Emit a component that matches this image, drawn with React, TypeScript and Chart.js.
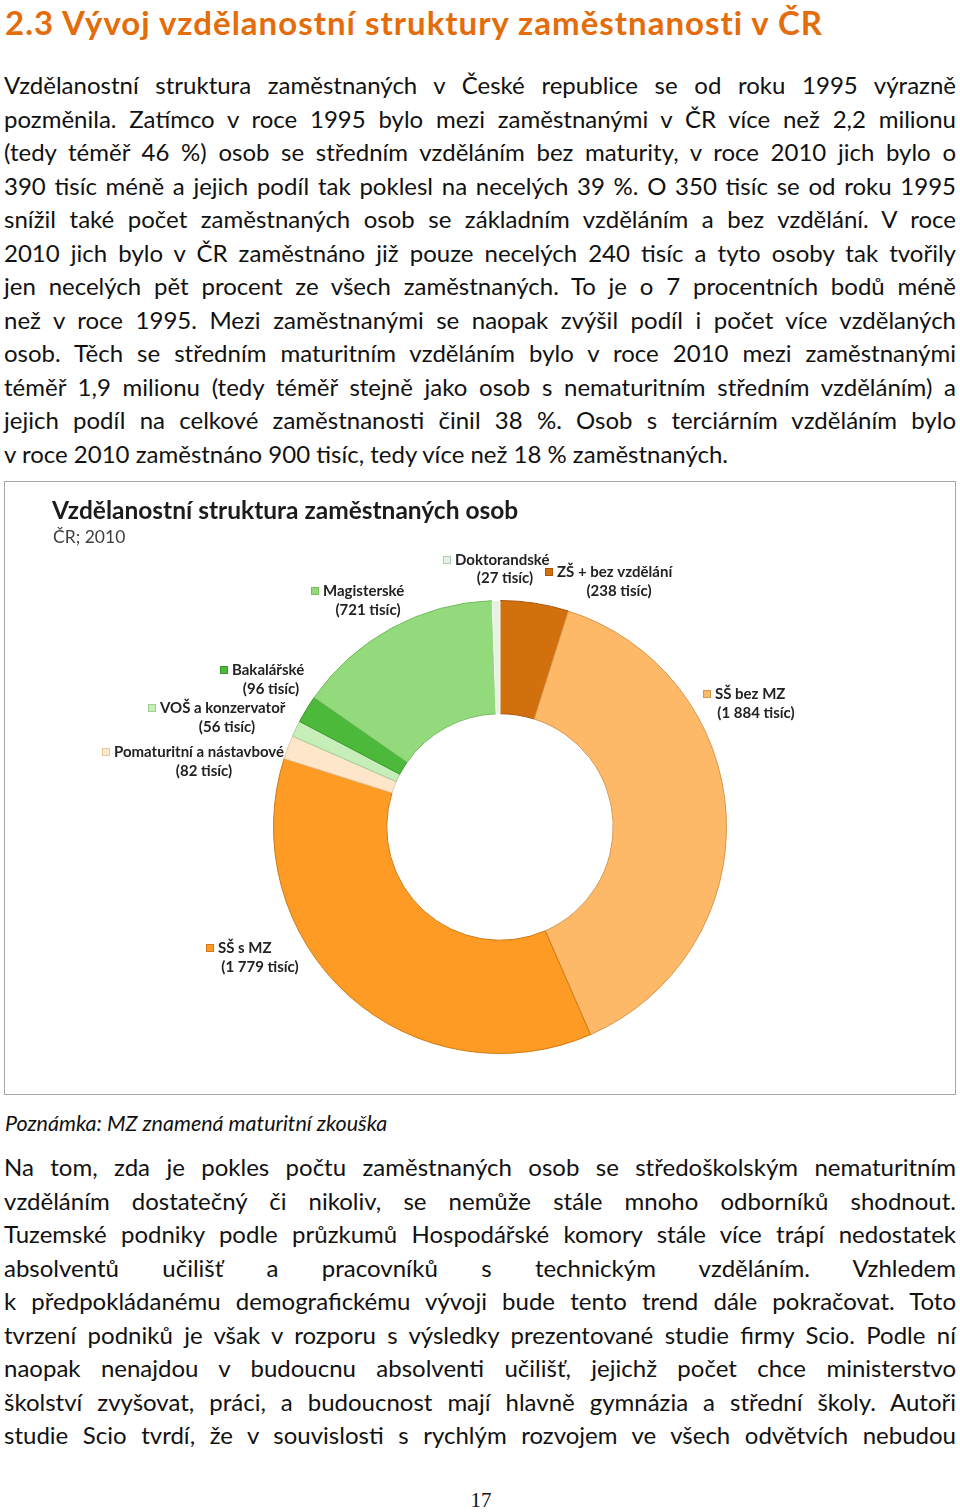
import React, { useEffect, useRef } from "react";
import { Chart, registerables } from "chart.js";

Chart.register(...registerables);

// ---- Data ----
const categories = [
  "ZŠ + bez vzdělání",
  "SŠ bez MZ",
  "SŠ s MZ",
  "Pomaturitní a nástavbové",
  "VOŠ a konzervatoř",
  "Bakalářské",
  "Magisterské",
  "Doktorandské",
];
const values = [238, 1884, 1779, 82, 56, 96, 721, 27];
const unitLabel = "tisíc";
const chartTitle = "Vzdělanostní struktura zaměstnaných osob";
const chartSubtitle = "ČR; 2010";

// ---- Styles ----
const sliceColors = [
  "#D2700E",
  "#FDB968",
  "#FE9B24",
  "#FDE6C9",
  "#C6EEB9",
  "#4DB93B",
  "#93DA7C",
  "#E4F2E2",
];
const sliceBorders = [
  "#A9560A",
  "#D8954C",
  "#CF7A14",
  "#E9C9A2",
  "#A2CF93",
  "#3A9A2C",
  "#74BC5F",
  "#FFFFFF",
];
// label layout relative to doughnut centre: [marker x, name y, value-line centre x, value y]
const labelLayout = [
  [49, -255, 119, -236],
  [207, -133, 256, -114],
  [-290, 121, -240, 140],
  [-394, -75, -296, -56],
  [-348, -119, -273, -100],
  [-276, -157, -229, -138],
  [-185, -236, -132, -217],
  [-53, -267, 5, -249],
];

const para1 = [
  "Vzdělanostní struktura zaměstnaných v České republice se od roku 1995 výrazně",
  "pozměnila. Zatímco v roce 1995 bylo mezi zaměstnanými v ČR více než 2,2 milionu",
  "(tedy téměř 46 %) osob se středním vzděláním bez maturity, v roce 2010 jich bylo o",
  "390 tisíc méně a jejich podíl tak poklesl na necelých 39 %. O 350 tisíc se od roku 1995",
  "snížil také počet zaměstnaných osob se základním vzděláním a bez vzdělání. V roce",
  "2010 jich bylo v ČR zaměstnáno již pouze necelých 240 tisíc a tyto osoby tak tvořily",
  "jen necelých pět procent ze všech zaměstnaných. To je o 7 procentních bodů méně",
  "než v roce 1995. Mezi zaměstnanými se naopak zvýšil podíl i počet více vzdělaných",
  "osob. Těch se  středním maturitním vzděláním bylo v roce 2010 mezi zaměstnanými",
  "téměř 1,9 milionu (tedy téměř stejně jako osob s nematuritním středním vzděláním) a",
  "jejich podíl na celkové zaměstnanosti činil 38 %. Osob s terciárním vzděláním bylo",
  "v roce 2010 zaměstnáno 900 tisíc, tedy více než 18 % zaměstnaných.",
];
const para2 = [
  "Na tom, zda je pokles počtu zaměstnaných osob se středoškolským nematuritním",
  "vzděláním dostatečný či nikoliv, se nemůže stále mnoho odborníků shodnout.",
  "Tuzemské podniky podle průzkumů Hospodářské komory stále více trápí nedostatek",
  "absolventů učilišť a pracovníků s technickým vzděláním. Vzhledem",
  "k předpokládanému demografickému vývoji bude tento trend dále pokračovat. Toto",
  "tvrzení podniků je však v rozporu s výsledky prezentované studie firmy Scio. Podle ní",
  "naopak nenajdou v budoucnu absolventi učilišť, jejichž počet chce ministerstvo",
  "školství zvyšovat, práci, a budoucnost mají hlavně gymnázia a střední školy. Autoři",
  "studie Scio tvrdí, že v souvislosti s rychlým rozvojem ve všech odvětvích nebudou",
];

const FONT = 'Lato, "Open Sans", "DejaVu Sans", sans-serif';

function formatThousands(v: number): string {
  return String(v).replace(/\B(?=(\d{3})+(?!\d))/g, " ");
}

const labelPlugin = {
  id: "outsideLabels",
  afterDraw(chart: any) {
    const meta = chart.getDatasetMeta(0);
    if (!meta || !meta.data.length) return;
    const cx = meta.data[0].x;
    const cy = meta.data[0].y;
    const ctx = chart.ctx;
    ctx.save();
    ctx.font = `bold 15px ${FONT}`;
    ctx.textBaseline = "middle";
    categories.forEach((name, i) => {
      const [mx, ny, vx, vy] = labelLayout[i];
      const x = cx + mx;
      const y = cy + ny;
      ctx.fillStyle = sliceColors[i];
      ctx.fillRect(x - 4, y - 4, 8, 8);
      ctx.strokeStyle = sliceBorders[i] === "#FFFFFF" ? "#B8C8B8" : sliceBorders[i];
      ctx.lineWidth = 1;
      ctx.strokeRect(x - 3.5, y - 3.5, 7, 7);
      ctx.fillStyle = "#222";
      ctx.textAlign = "left";
      ctx.fillText(name, x + 8, y);
      ctx.textAlign = "center";
      ctx.fillText(`(${formatThousands(values[i])} ${unitLabel})`, cx + vx, cy + vy);
    });
    ctx.restore();
  },
};

function DoughnutChart() {
  const ref = useRef<HTMLCanvasElement | null>(null);
  useEffect(() => {
    if (!ref.current) return;
    const chart = new Chart(ref.current, {
      type: "doughnut",
      data: {
        labels: categories,
        datasets: [
          {
            data: values,
            backgroundColor: sliceColors,
            borderColor: sliceBorders,
            borderWidth: 1,
          },
        ],
      },
      options: {
        animation: false,
        responsive: false,
        maintainAspectRatio: false,
        cutout: "50%",
        rotation: 0,
        layout: { padding: { top: 118, bottom: 40, left: 268, right: 228 } },
        plugins: {
          legend: { display: false },
          tooltip: { enabled: false },
          title: { display: false },
        },
      },
      plugins: [labelPlugin],
    });
    return () => chart.destroy();
  }, []);
  return (
    <canvas
      ref={ref}
      width={950}
      height={612}
      style={{ position: "absolute", left: 0, top: 0, width: 950, height: 612 }}
    />
  );
}

function Lines({ lines, top, justifyLast }: { lines: string[]; top: number; justifyLast: boolean }) {
  const lh = 33.5;
  return (
    <>
      {lines.map((t, i) => (
        <div
          key={i}
          style={{
            position: "absolute",
            left: 4,
            width: 952,
            top: top + i * lh - lh / 2,
            height: lh,
            lineHeight: `${lh}px`,
            fontSize: 24,
            fontFamily: FONT,
            color: "#111",
            textAlign: "justify",
            textAlignLast: i < lines.length - 1 || justifyLast ? "justify" : "left",
          }}
        >
          {t}
        </div>
      ))}
    </>
  );
}

export default function App() {
  useEffect(() => {
    document.body.style.margin = "0";
    document.body.style.background = "#fff";
  }, []);
  return (
    <div style={{ position: "relative", width: 960, height: 1512, background: "#fff", overflow: "hidden" }}>
      <div
        style={{
          position: "absolute",
          left: 5,
          top: 1,
          fontFamily: FONT,
          fontWeight: 700,
          fontSize: 33,
          letterSpacing: 1,
          lineHeight: "42px",
          color: "#E46C0A",
          whiteSpace: "nowrap",
        }}
      >
        2.3 Vývoj vzdělanostní struktury zaměstnanosti v ČR
      </div>
      <Lines lines={para1} top={85} justifyLast={false} />
      <div
        style={{
          position: "absolute",
          left: 4,
          top: 481,
          width: 952,
          height: 614,
          boxSizing: "border-box",
          border: "1px solid #A6A6A6",
        }}
      >
        <DoughnutChart />
        <div
          style={{
            position: "absolute",
            left: 47,
            top: 13,
            fontFamily: FONT,
            fontWeight: 700,
            fontSize: 24.5,
            lineHeight: "30px",
            color: "#1C1C1C",
            whiteSpace: "nowrap",
          }}
        >
          {chartTitle}
        </div>
        <div
          style={{
            position: "absolute",
            left: 48,
            top: 44,
            fontFamily: FONT,
            fontSize: 17.5,
            lineHeight: "22px",
            color: "#404040",
            whiteSpace: "nowrap",
          }}
        >
          {chartSubtitle}
        </div>
      </div>
      <div
        style={{
          position: "absolute",
          left: 5,
          top: 1109,
          fontFamily: FONT,
          fontStyle: "italic",
          fontSize: 21.5,
          lineHeight: "28px",
          color: "#111",
          whiteSpace: "nowrap",
        }}
      >
        Poznámka: MZ znamená maturitní zkouška
      </div>
      <Lines lines={para2} top={1167} justifyLast={true} />
      <div
        style={{
          position: "absolute",
          left: 0,
          width: 962,
          top: 1487,
          textAlign: "center",
          fontFamily: '"Liberation Serif", "DejaVu Serif", serif',
          fontSize: 21,
          lineHeight: "26px",
          color: "#111",
        }}
      >
        17
      </div>
    </div>
  );
}
